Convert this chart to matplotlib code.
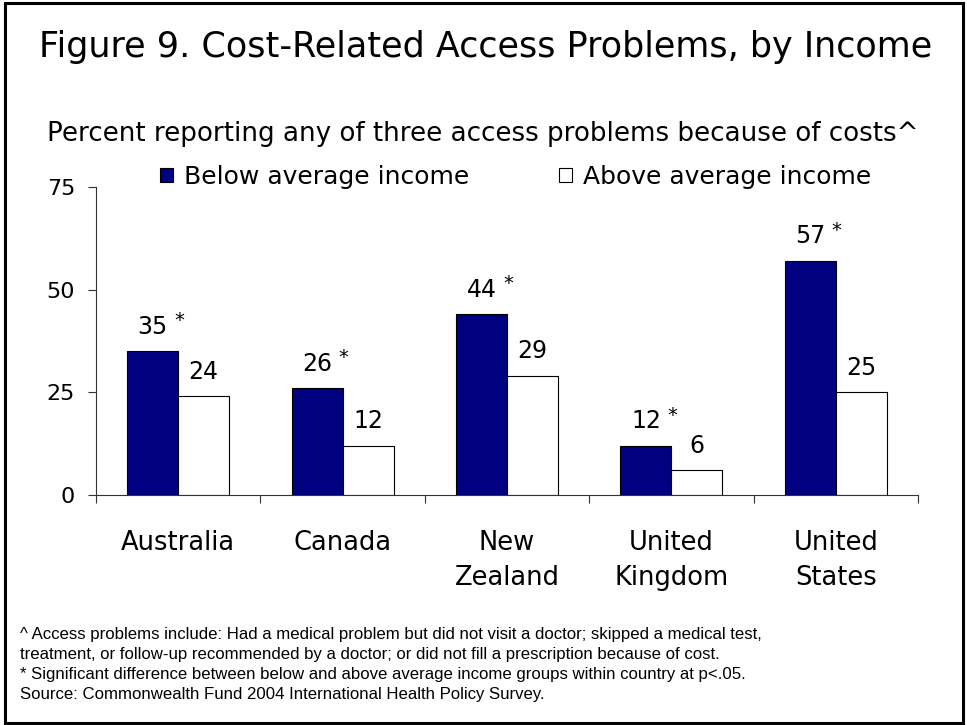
import matplotlib
matplotlib.use("Agg")
import matplotlib.pyplot as plt
from matplotlib.patches import Rectangle
import numpy as np

countries = ["Australia", "Canada", "New\nZealand", "United\nKingdom", "United\nStates"]
below_avg = [35, 26, 44, 12, 57]
above_avg = [24, 12, 29, 6, 25]
below_sig = [True, True, True, True, True]
yticks = [0, 25, 50, 75]

title = "Figure 9. Cost-Related Access Problems, by Income"
subtitle = "Percent reporting any of three access problems because of costs^"
notes = [
    "^ Access problems include: Had a medical problem but did not visit a doctor; skipped a medical test,",
    "treatment, or follow-up recommended by a doctor; or did not fill a prescription because of cost.",
    "* Significant difference between below and above average income groups within country at p<.05.",
    "Source: Commonwealth Fund 2004 International Health Policy Survey.",
]

NAVY = "#000080"
MAIN_FONT = "DejaVu Sans"
NOTE_FONT = "Liberation Sans"

W, H = 967, 725
fig = plt.figure(figsize=(W / 100, H / 100), dpi=100)
fig.patch.set_facecolor("white")

# outer frame
fig.add_artist(Rectangle((5 / W, 2 / H), (963 - 5) / W, (722 - 2) / H,
                         transform=fig.transFigure, fill=False,
                         edgecolor="black", linewidth=2.2))

fig.text(486 / W, 1 - 47 / H, title, ha="center", va="center",
         fontsize=25.2, family=MAIN_FONT)
fig.text(483 / W, 1 - 134 / H, subtitle, ha="center", va="center",
         fontsize=18.8, family=MAIN_FONT)

ax_left, ax_right = 96 / W, 918 / W
ax_bottom, ax_top = 1 - 495 / H, 1 - 187 / H
ax = fig.add_axes([ax_left, ax_bottom, ax_right - ax_left, ax_top - ax_bottom])

x = np.arange(len(countries))
bw = 0.31
b1 = ax.bar(x - bw / 2, below_avg, bw, color=NAVY, edgecolor="black",
            linewidth=0.8, label="Below average income")
b2 = ax.bar(x + bw / 2, above_avg, bw, color="white", edgecolor="black",
            linewidth=0.8, label="Above average income")

for xi, v, sig in zip(x, below_avg, below_sig):
    ax.annotate(str(v), (xi - bw / 2, v), xytext=(0, 9), textcoords="offset points",
                ha="center", va="bottom", fontsize=17, family=MAIN_FONT)
    if sig:
        ax.annotate("*", (xi - bw / 2, v), xytext=(19, 15), textcoords="offset points",
                    ha="center", va="bottom", fontsize=14, family=MAIN_FONT)
for xi, v in zip(x, above_avg):
    ax.annotate(str(v), (xi + bw / 2, v), xytext=(0, 9), textcoords="offset points",
                ha="center", va="bottom", fontsize=17, family=MAIN_FONT)

ax.set_xlim(-0.5, len(countries) - 0.5)
ax.set_ylim(0, 75)
ax.set_yticks(yticks)
ax.set_yticklabels([str(t) for t in yticks], fontsize=16, family=MAIN_FONT)
ax.tick_params(axis="y", length=6, width=0.8, pad=9, color="#333333")

ax.set_xticks(x)
ax.set_xticklabels(countries, fontsize=18.5, family=MAIN_FONT, linespacing=1.45,
                   va="top")
ax.tick_params(axis="x", which="major", length=0, pad=25)
ax.set_xticks(np.arange(len(countries) + 1) - 0.5, minor=True)
ax.tick_params(axis="x", which="minor", length=6, width=0.8, color="#333333",
               direction="out")

for s in ["top", "right"]:
    ax.spines[s].set_visible(False)
ax.spines["left"].set_linewidth(0.8)
ax.spines["bottom"].set_linewidth(0.8)
ax.spines["left"].set_color("#333333")
ax.spines["bottom"].set_color("#333333")

leg = fig.legend(handles=[b1, b2], loc="center left",
                 bbox_to_anchor=(160 / W, 1 - 177 / H), ncol=2, frameon=False,
                 prop={"family": MAIN_FONT, "size": 18},
                 handlelength=0.5, handleheight=0.5, handletextpad=0.45,
                 columnspacing=3.6, borderaxespad=0, borderpad=0)

for i, line in enumerate(notes):
    fig.text(20 / W, 1 - (634 + 20 * i) / H, line, ha="left", va="center",
             fontsize=12.1, family=NOTE_FONT)

fig.savefig("out.png", dpi=100, facecolor="white")
